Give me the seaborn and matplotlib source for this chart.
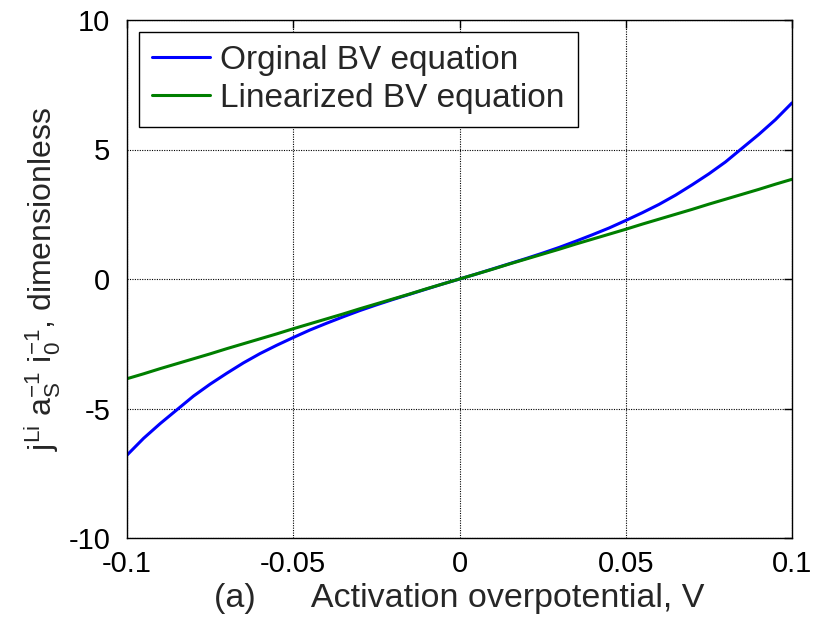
import numpy as np
import pandas as pd
import matplotlib
matplotlib.use("Agg")
import matplotlib.pyplot as plt
import seaborn as sns

# Overpotential (V)
eta = [-0.100, -0.095, -0.090, -0.085, -0.080, -0.075, -0.070, -0.065, -0.060, -0.055,
       -0.050, -0.045, -0.040, -0.035, -0.030, -0.025, -0.020, -0.015, -0.010, -0.005,
       0.000, 0.005, 0.010, 0.015, 0.020, 0.025, 0.030, 0.035, 0.040, 0.045,
       0.050, 0.055, 0.060, 0.065, 0.070, 0.075, 0.080, 0.085, 0.090, 0.095, 0.100]
# Original BV equation
bv_orig = [-6.80, -6.15, -5.58, -5.05, -4.52, -4.06, -3.64, -3.24, -2.88, -2.56,
           -2.26, -1.97, -1.71, -1.46, -1.22, -1.00, -0.79, -0.59, -0.39, -0.19,
           0.00, 0.19, 0.39, 0.59, 0.79, 1.00, 1.22, 1.46, 1.71, 1.97,
           2.26, 2.56, 2.88, 3.24, 3.64, 4.06, 4.52, 5.05, 5.58, 6.15, 6.80]
# Linearized BV equation
bv_lin = [-3.85, -3.66, -3.46, -3.27, -3.08, -2.89, -2.69, -2.50, -2.31, -2.12,
          -1.92, -1.73, -1.54, -1.35, -1.15, -0.96, -0.77, -0.58, -0.38, -0.19,
          0.00, 0.19, 0.38, 0.58, 0.77, 0.96, 1.15, 1.35, 1.54, 1.73,
          1.92, 2.12, 2.31, 2.50, 2.69, 2.89, 3.08, 3.27, 3.46, 3.66, 3.85]
series_names = ["Orginal BV equation", "Linearized BV equation"]
series_colors = ["#0000ff", "#007f00"]
xticks = [-0.1, -0.05, 0, 0.05, 0.1]
xtick_labels = ["-0.1", "-0.05", "0", "0.05", "0.1"]
yticks = [-10, -5, 0, 5, 10]
ytick_labels = ["-10", "-5", "0", "5", "10"]

df = pd.DataFrame({
    "eta": eta * 2,
    "j": bv_orig + bv_lin,
    "series": [series_names[0]] * len(eta) + [series_names[1]] * len(eta),
})

sns.set_style("white")
plt.rcParams["font.family"] = ["Liberation Sans", "DejaVu Sans"]
plt.rcParams["mathtext.fontset"] = "custom"
plt.rcParams["mathtext.rm"] = "Liberation Sans"
plt.rcParams["mathtext.it"] = "Liberation Sans"

fig = plt.figure(figsize=(8.13, 6.21), dpi=100)
ax = fig.add_axes([127/813, 1-538/621, (792-127)/813, (538-20)/621])

sns.lineplot(data=df, x="eta", y="j", hue="series", palette=series_colors,
             hue_order=series_names, linewidth=2.2, ax=ax, estimator=None, sort=False)

ax.set_xlim(-0.1, 0.1)
ax.set_ylim(-10, 10)
ax.set_xticks(xticks)
ax.set_xticklabels(xtick_labels, fontsize=21)
ax.set_yticks(yticks)
ax.set_yticklabels(ytick_labels, fontsize=21)
ax.tick_params(axis="x", pad=9)
ax.tick_params(axis="y", pad=12)
ax.tick_params(direction="in", length=6, width=1, top=True, right=True, colors="black")
ax.grid(True, color="black", linestyle=(0, (1, 1.2)), linewidth=0.8)
for s in ax.spines.values():
    s.set_color("black")
    s.set_linewidth(1.0)

ax.set_xlabel("(a)      Activation overpotential, V", fontsize=24.5, labelpad=3)
ax.set_ylabel(r"$\mathregular{j^{Li}\ a_S^{-1}\ i_0^{-1}}$, dimensionless", fontsize=23, labelpad=4)

leg = ax.legend(loc="upper left", fontsize=24, frameon=True, fancybox=False,
                edgecolor="black", framealpha=1, handlelength=1.75, handletextpad=0.3,
                borderpad=0.4, labelspacing=0.2, borderaxespad=0.35)
leg.get_frame().set_linewidth(1.0)
for l in leg.get_lines():
    l.set_linewidth(2.2)

fig.savefig("out.png", dpi=100)
